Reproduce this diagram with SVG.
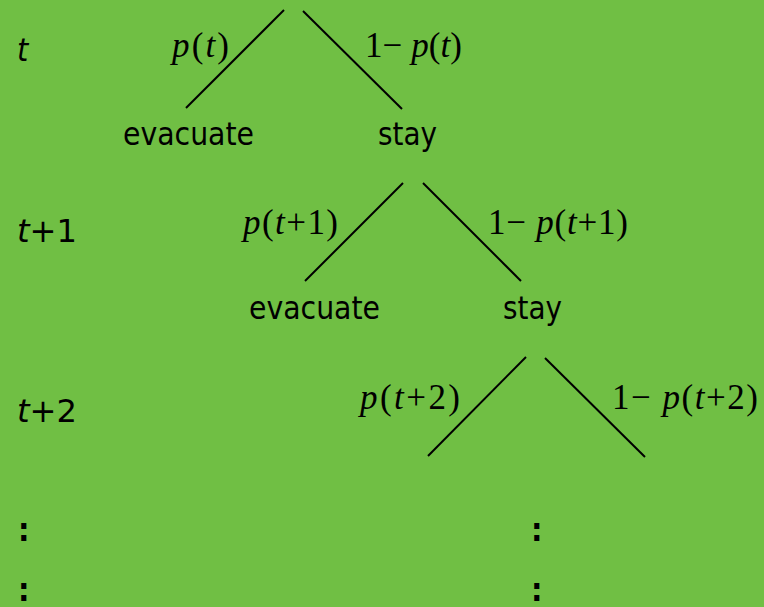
<svg xmlns="http://www.w3.org/2000/svg" width="764" height="607" viewBox="0 0 764 607">
<style>
.bg{fill:#70bf44}
.e{stroke:#000;stroke-width:2;fill:none}
.s{font-family:"DejaVu Sans Condensed","DejaVu Sans",sans-serif;font-size:32px;fill:#000}
.m{font-family:"Liberation Serif","Times New Roman",serif;font-size:35px;fill:#000}
.i{font-style:italic}
</style>
<rect class="bg" x="0" y="0" width="764" height="607"/>
<g id="connectors">
<line class="e" x1="284" y1="10" x2="186" y2="108"/>
<line class="e" x1="303" y1="11" x2="402" y2="109"/>
<line class="e" x1="403" y1="183" x2="305" y2="281"/>
<line class="e" x1="423" y1="183" x2="521" y2="281"/>
<line class="e" x1="526" y1="357" x2="428" y2="456"/>
<line class="e" x1="545" y1="358" x2="645" y2="457"/>
<text class="m" x="172" y="57" textLength="57" lengthAdjust="spacing"><tspan class="i">p</tspan>(<tspan class="i">t</tspan>)</text>
<text class="m" x="365" y="57" textLength="97" lengthAdjust="spacing">1− <tspan class="i">p</tspan>(<tspan class="i">t</tspan>)</text>
<text class="m" x="243" y="234" textLength="95" lengthAdjust="spacing"><tspan class="i">p</tspan>(<tspan class="i">t</tspan>+1)</text>
<text class="m" x="488" y="234" textLength="140" lengthAdjust="spacing">1− <tspan class="i">p</tspan>(<tspan class="i">t</tspan>+1)</text>
<text class="m" x="360" y="409" textLength="100" lengthAdjust="spacing"><tspan class="i">p</tspan>(<tspan class="i">t</tspan>+2)</text>
<text class="m" x="612" y="409" textLength="146" lengthAdjust="spacing">1− <tspan class="i">p</tspan>(<tspan class="i">t</tspan>+2)</text>
</g>
<g id="time-t"><text class="s i" x="17" y="61">t</text></g>
<g id="time-t1"><text class="s" x="17" y="242" textLength="60" lengthAdjust="spacingAndGlyphs"><tspan class="i">t</tspan>+1</text></g>
<g id="time-t2"><text class="s" x="17" y="422" textLength="60" lengthAdjust="spacingAndGlyphs"><tspan class="i">t</tspan>+2</text></g>
<g id="evacuate1"><text class="s" x="123" y="145" textLength="131" lengthAdjust="spacingAndGlyphs">evacuate</text></g>
<g id="stay1"><text class="s" x="378" y="145" textLength="59" lengthAdjust="spacingAndGlyphs">stay</text></g>
<g id="evacuate2"><text class="s" x="249" y="319" textLength="131" lengthAdjust="spacingAndGlyphs">evacuate</text></g>
<g id="stay2"><text class="s" x="503" y="319" textLength="59" lengthAdjust="spacingAndGlyphs">stay</text></g>
<g id="dots-left" font-weight="bold">
<text class="s" x="18" y="541">:</text>
<text class="s" x="18" y="601">:</text>
</g>
<g id="dots-right" font-weight="bold">
<text class="s" x="531" y="541">:</text>
<text class="s" x="531" y="601">:</text>
</g>
</svg>
